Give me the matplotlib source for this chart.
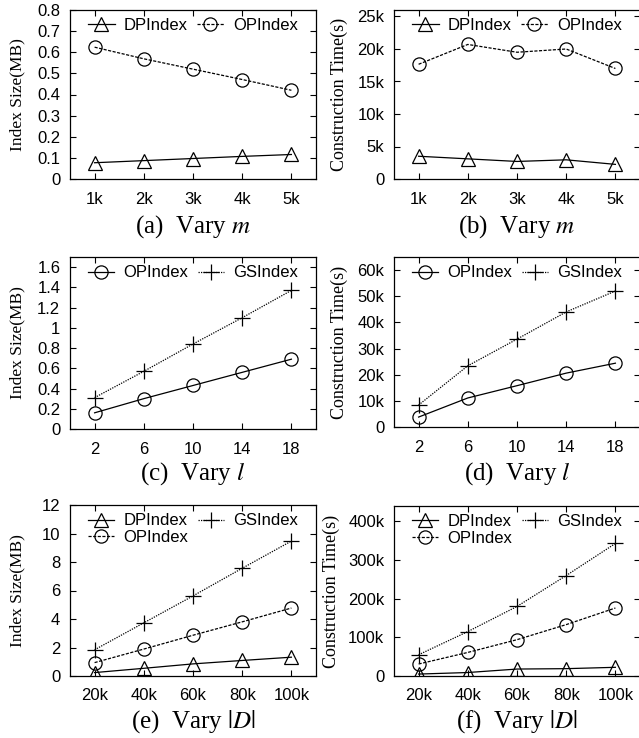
import matplotlib
matplotlib.use('Agg')
import matplotlib.pyplot as plt

plt.rcParams['font.family'] = ['Liberation Sans', 'DejaVu Sans']
plt.rcParams['mathtext.fontset'] = 'stix'

W, H = 639, 738

# x axes
m_x = [1, 2, 3, 4, 5]
m_labels = ['1k', '2k', '3k', '4k', '5k']
l_x = [2, 6, 10, 14, 18]
l_labels = ['2', '6', '10', '14', '18']
d_x = [20, 40, 60, 80, 100]
d_labels = ['20k', '40k', '60k', '80k', '100k']

# (a) index size vs m (MB)
a_dp = [0.077, 0.087, 0.097, 0.107, 0.116]
a_op = [0.624, 0.569, 0.520, 0.471, 0.420]
# (b) construction time vs m (s)
b_dp = [3500, 3100, 2700, 2950, 2250]
b_op = [17650, 20700, 19500, 20000, 17000]
# (c) index size vs l (MB)
c_op = [0.16, 0.30, 0.43, 0.56, 0.69]
c_gs = [0.31, 0.57, 0.84, 1.10, 1.37]
# (d) construction time vs l (s)
d_op = [3800, 11100, 15800, 20600, 24400]
d_gs = [8400, 23400, 33600, 44000, 52000]
# (e) index size vs |D| (MB)
e_dp = [0.24, 0.54, 0.85, 1.09, 1.32]
e_op = [0.94, 1.89, 2.86, 3.80, 4.77]
e_gs = [1.84, 3.73, 5.62, 7.56, 9.47]
# (f) construction time vs |D| (s)
f_dp = [5000, 9000, 18000, 19000, 22500]
f_op = [31000, 61000, 94000, 133000, 176000]
f_gs = [55000, 115000, 180000, 260000, 343000]

fig = plt.figure(figsize=(W / 100, H / 100), dpi=100)


def rect(l, t, r, b):
    return [l / W, 1 - b / H, (r - l) / W, (b - t) / H]


DP = dict(color='black', lw=0.9, marker='^', ms=10, mfc='none', mew=0.9, label='DPIndex')
OP_DASH = dict(color='black', lw=0.9, ls=(0, (2.5, 1.2)), marker='o', ms=9.5, mfc='none', mew=0.9, label='OPIndex')
OP_SOLID = dict(color='black', lw=0.9, marker='o', ms=9.5, mfc='none', mew=0.9, label='OPIndex')
GS = dict(color='black', lw=0.9, ls=(0, (1, 1)), marker='+', ms=11, mew=0.9, label='GSIndex')


def setup(ax, xlim, xt, xl, ylim, yt, yl, ylabel, lab_x, caption, cap_y, lab_size):
    ax.set_xlim(*xlim)
    ax.set_ylim(*ylim)
    ax.set_xticks(xt)
    ax.set_xticklabels(xl)
    ax.set_yticks(yt)
    ax.set_yticklabels(yl)
    ax.tick_params(direction='in', top=True, right=True, length=4, width=0.8, labelsize=12)
    ax.tick_params(axis='x', pad=9)
    ax.tick_params(axis='y', pad=7)
    for s in ax.spines.values():
        s.set_linewidth(0.9)
    pos = ax.get_position()
    cy = (pos.y0 + pos.y1) / 2
    fig.text(lab_x / W, cy, ylabel, rotation=90, ha='center', va='center',
             family='Liberation Serif', fontsize=lab_size)
    cx = (pos.x0 + pos.x1) / 2
    fig.text(cx, 1 - cap_y / H, caption, ha='center', va='center',
             family='Liberation Serif', fontsize=18)


def legend(ax, ncol=2):
    ax.legend(loc='upper center', bbox_to_anchor=(0.5, 1.0), ncol=ncol, frameon=False,
              fontsize=12, handlelength=1.6, handletextpad=0.55, columnspacing=0.55,
              labelspacing=0.1, borderaxespad=0.3, borderpad=0.2)


# (a)
ax = fig.add_axes(rect(70, 10, 316, 179))
ax.plot(m_x, a_dp, **DP)
ax.plot(m_x, a_op, **OP_DASH)
setup(ax, (0.5, 5.5), m_x, m_labels, (0, 0.8), [i / 10 for i in range(9)],
      ['0', '0.1', '0.2', '0.3', '0.4', '0.5', '0.6', '0.7', '0.8'],
      'Index Size(MB)', 17, '(a)  Vary $m$', 227, 12.5)
legend(ax)

# (b)
ax = fig.add_axes(rect(394, 10, 640, 179))
ax.plot(m_x, b_dp, **DP)
ax.plot(m_x, b_op, **OP_DASH)
setup(ax, (0.5, 5.5), m_x, m_labels, (0, 26000), [0, 5000, 10000, 15000, 20000, 25000],
      ['0', '5k', '10k', '15k', '20k', '25k'],
      'Construction Time(s)', 339, '(b)  Vary $m$', 227, 13)
legend(ax)

# (c)
ax = fig.add_axes(rect(70, 257, 316, 429))
ax.plot(l_x, c_op, **OP_SOLID)
ax.plot(l_x, c_gs, **GS)
setup(ax, (0, 20), l_x, l_labels, (0, 1.7), [i / 5 for i in range(9)],
      ['0', '0.2', '0.4', '0.6', '0.8', '1', '1.2', '1.4', '1.6'],
      'Index Size(MB)', 17, '(c)  Vary $l$', 474, 12.5)
legend(ax)

# (d)
ax = fig.add_axes(rect(394, 257, 640, 427))
ax.plot(l_x, d_op, **OP_SOLID)
ax.plot(l_x, d_gs, **GS)
setup(ax, (0, 20), l_x, l_labels, (0, 65000), [i * 10000 for i in range(7)],
      ['0', '10k', '20k', '30k', '40k', '50k', '60k'],
      'Construction Time(s)', 339, '(d)  Vary $l$', 474, 13)
legend(ax)

# (e)
ax = fig.add_axes(rect(70, 505, 316, 676))
ax.plot(d_x, e_dp, **DP)
ax.plot(d_x, e_op, **OP_DASH)
ax.plot(d_x, e_gs, **GS)
setup(ax, (10, 110), d_x, d_labels, (0, 12), [0, 2, 4, 6, 8, 10, 12],
      ['0', '2', '4', '6', '8', '10', '12'],
      'Index Size(MB)', 17, '(e)  Vary $|D|$', 722, 12.5)
legend(ax)

# (f)
ax = fig.add_axes(rect(394, 506, 640, 676))
ax.plot(d_x, f_dp, **DP)
ax.plot(d_x, f_op, **OP_DASH)
ax.plot(d_x, f_gs, **GS)
setup(ax, (10, 110), d_x, d_labels, (0, 440000), [0, 100000, 200000, 300000, 400000],
      ['0', '100k', '200k', '300k', '400k'],
      'Construction Time(s)', 331, '(f)  Vary $|D|$', 722, 13)
legend(ax)

fig.savefig('out.png', dpi=100)
